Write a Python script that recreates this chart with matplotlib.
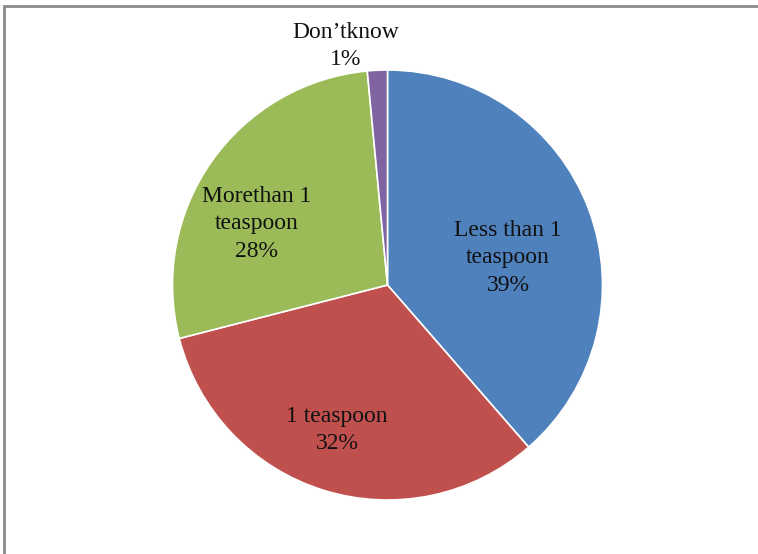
import matplotlib
matplotlib.use("Agg")
import matplotlib.pyplot as plt
from matplotlib.patches import Rectangle
import numpy as np

categories = ["Less than 1\nteaspoon", "1 teaspoon", "Morethan 1\nteaspoon", "Don\u2019tknow"]
values = [38.6, 32.4, 27.5, 1.5]
pct_labels = ["39%", "32%", "28%", "1%"]
colors = ["#4F81BD", "#C0504D", "#9BBB59", "#8064A2"]

W, H = 758, 554
fig = plt.figure(figsize=(W / 100, H / 100), dpi=100)
ax = fig.add_axes([0, 0, 1, 1])

cx, cy, r = 387.5, H - 285, 215
wedges, _ = ax.pie(values, colors=colors, startangle=90, counterclock=False,
                   center=(cx, cy), radius=r, frame=True,
                   wedgeprops=dict(edgecolor="white", linewidth=1.2))
ax.set_xlim(0, W)
ax.set_ylim(0, H)
ax.set_aspect("equal")
ax.axis("off")

# label placements (pixel positions of label centers)
label_pos = [(508, 258), (337, 430), (257, 224), (346, 46)]
for name, pct, (lx, ly) in zip(categories, pct_labels, label_pos):
    ax.text(lx, H - ly, f"{name}\n{pct}", ha="center", va="center",
            fontsize=17, family="Liberation Serif", color="#111111",
            linespacing=1.38)

# chart frame (top and left visible)
ax.add_patch(Rectangle((4, -10), W + 20, H - 6 + 10, fill=False,
                       edgecolor="#8c8c8c", linewidth=2.0, clip_on=False))

fig.savefig("out.png", dpi=100)
